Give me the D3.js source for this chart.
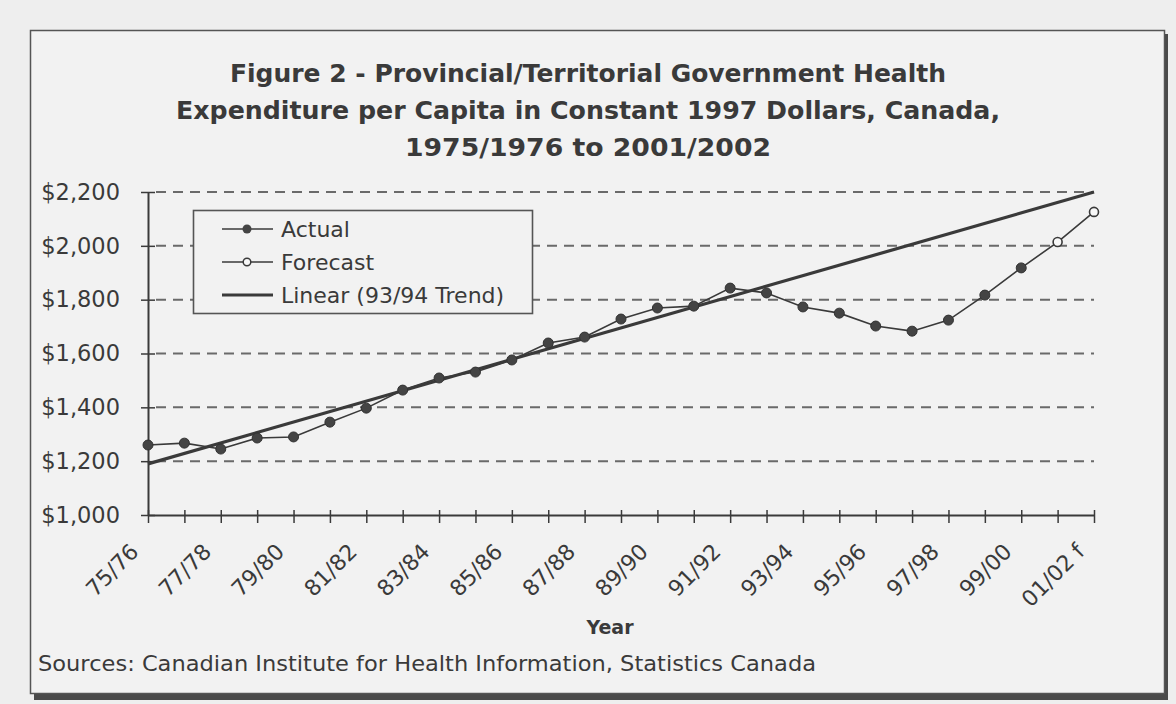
<!DOCTYPE html>
<html><head><meta charset="utf-8">
<script src="https://cdn.jsdelivr.net/npm/d3@7"></script>
<style>
html,body{margin:0;padding:0;background:#eeeeee;}
svg{display:block;font-family:"DejaVu Sans","Liberation Sans",sans-serif;}
</style></head>
<body>
<svg id="chart" width="1176" height="704"></svg>
<script>
const years = ["75/76","76/77","77/78","78/79","79/80","80/81","81/82","82/83","83/84","84/85","85/86","86/87","87/88","88/89","89/90","90/91","91/92","92/93","93/94","94/95","95/96","96/97","97/98","98/99","99/00","00/01","01/02"];
const tickLabels = ["75/76","77/78","79/80","81/82","83/84","85/86","87/88","89/90","91/92","93/94","95/96","97/98","99/00","01/02 f"];
const actual = [1260,1267,1245,1286,1290,1345,1397,1464,1509,1531,1576,1639,1661,1728,1769,1776,1843,1825,1773,1750,1702,1683,1724,1817,1918];
const forecastYears = ["99/00","00/01","01/02"];
const forecast = [1918,2014,2126];
const trendYears = ["75/76","01/02"];
const trend = [1190,2200];
const yTicks = [1000,1200,1400,1600,1800,2000,2200];
const titleLines = ["Figure 2 - Provincial/Territorial Government Health","Expenditure per Capita in Constant 1997 Dollars, Canada,","1975/1976 to 2001/2002"];
const legendLabels = ["Actual","Forecast","Linear (93/94 Trend)"];

const svg = d3.select("#chart");
const ink = "#3a3a3a";

// frame with shadow
svg.append("rect").attr("x",34).attr("y",34).attr("width",1134).attr("height",666).attr("fill","#4a4a4a");
svg.append("rect").attr("x",30.5).attr("y",30.5).attr("width",1134).attr("height",663).attr("fill","#f2f2f2").attr("stroke","#555").attr("stroke-width",1.5);

// title
const titleGeom = [{x0:230,x1:946,y:82},{x0:176,x1:1000,y:119},{x0:405,x1:771,y:156}];
svg.append("g").selectAll("text").data(titleLines).join("text")
  .attr("x",(d,i)=>titleGeom[i].x0).attr("y",(d,i)=>titleGeom[i].y)
  .attr("textLength",(d,i)=>titleGeom[i].x1-titleGeom[i].x0).attr("lengthAdjust","spacingAndGlyphs")
  .attr("font-size",24).attr("font-weight","bold").attr("fill",ink)
  .text(d=>d);

const x = d3.scalePoint().domain(years).range([148,1094]);
const y = d3.scaleLinear().domain([1000,2200]).range([515,192]);

// gridlines
svg.append("g").selectAll("line").data(yTicks.slice(1)).join("line")
  .attr("x1",156).attr("x2",1094).attr("y1",d=>y(d)).attr("y2",d=>y(d))
  .attr("stroke","#6a6a6a").attr("stroke-width",2).attr("stroke-dasharray","10,7");

// y axis
const yAxis = d3.axisLeft(y).tickValues(yTicks).tickSizeInner(7).tickSizeOuter(0)
  .tickFormat(d=>"$"+d3.format(",")(d)).tickPadding(21);
const gy = svg.append("g").attr("transform","translate(148,0)").call(yAxis);
gy.select(".domain").attr("stroke",ink).attr("stroke-width",2);
gy.selectAll(".tick line").attr("stroke",ink).attr("stroke-width",1.5).attr("x2",-7).attr("x1",7);
gy.selectAll("text").attr("fill",ink).attr("font-family","'DejaVu Sans',sans-serif").attr("font-size",22.5);

// x axis
const xAxis = d3.axisBottom(x).tickSizeInner(8).tickSizeOuter(0).tickFormat("");
const gx = svg.append("g").attr("transform","translate(0,515)").call(xAxis);
gx.select(".domain").attr("stroke",ink).attr("stroke-width",2);
gx.selectAll(".tick line").attr("stroke",ink).attr("stroke-width",1.5).attr("y1",-5).attr("y2",8);

// x labels rotated
const labelYears = years.filter((d,i)=>i%2===0);
svg.append("g").selectAll("text").data(labelYears).join("text")
  .attr("transform",(d,i)=>`translate(${x(d)-8},${553}) rotate(-45)`)
  .attr("text-anchor","end").attr("font-size",22).attr("fill",ink)
  .text((d,i)=>tickLabels[i]);

// axis title
svg.append("text").attr("x",610).attr("y",634).attr("text-anchor","middle")
  .attr("font-size",19).attr("font-weight","bold").attr("fill",ink).text("Year");

// sources
svg.append("text").attr("x",38).attr("y",671).attr("fill",ink)
  .attr("font-size",20.5).attr("textLength",778).attr("lengthAdjust","spacingAndGlyphs")
  .text("Sources: Canadian Institute for Health Information, Statistics Canada");

const line = d3.line().x(d=>x(d[0])).y(d=>y(d[1]));

// trend
svg.append("path").datum(trendYears.map((d,i)=>[d,trend[i]])).attr("d",line)
  .attr("fill","none").attr("stroke",ink).attr("stroke-width",3.2);

// actual
const actData = actual.map((v,i)=>[years[i],v]);
svg.append("path").datum(actData).attr("d",line).attr("fill","none").attr("stroke",ink).attr("stroke-width",1.6);
// forecast
const fcData = forecast.map((v,i)=>[forecastYears[i],v]);
svg.append("path").datum(fcData).attr("d",line).attr("fill","none").attr("stroke",ink).attr("stroke-width",1.6);

svg.append("g").selectAll("circle").data(actData).join("circle")
  .attr("cx",d=>x(d[0])).attr("cy",d=>y(d[1])).attr("r",5).attr("fill","#444").attr("stroke","#333").attr("stroke-width",1);
svg.append("g").selectAll("circle").data(fcData.slice(1)).join("circle")
  .attr("cx",d=>x(d[0])).attr("cy",d=>y(d[1])).attr("r",4.5).attr("fill","#f8f8f8").attr("stroke",ink).attr("stroke-width",1.6);

// legend
const lg = svg.append("g");
lg.append("rect").attr("x",193.5).attr("y",210.5).attr("width",339).attr("height",103)
  .attr("fill","#f2f2f2").attr("stroke","#555").attr("stroke-width",1.6);
const legendTypes = ["actual","forecast","trend"];
legendLabels.forEach((label,i)=>{
  const type = legendTypes[i];
  const cy = 229 + i*33;
  lg.append("line").attr("x1",222).attr("x2",273).attr("y1",cy).attr("y2",cy)
    .attr("stroke",ink).attr("stroke-width",type==="trend"?3.2:1.6);
  if(type==="actual") lg.append("circle").attr("cx",247).attr("cy",cy).attr("r",4.5).attr("fill","#444");
  if(type==="forecast") lg.append("circle").attr("cx",247).attr("cy",cy).attr("r",3.8).attr("fill","#f8f8f8").attr("stroke",ink).attr("stroke-width",1.5);
  lg.append("text").attr("x",281).attr("y",cy+8).attr("fill",ink)
    .attr("font-size",22)
    .text(label);
});
</script>
</body></html>
